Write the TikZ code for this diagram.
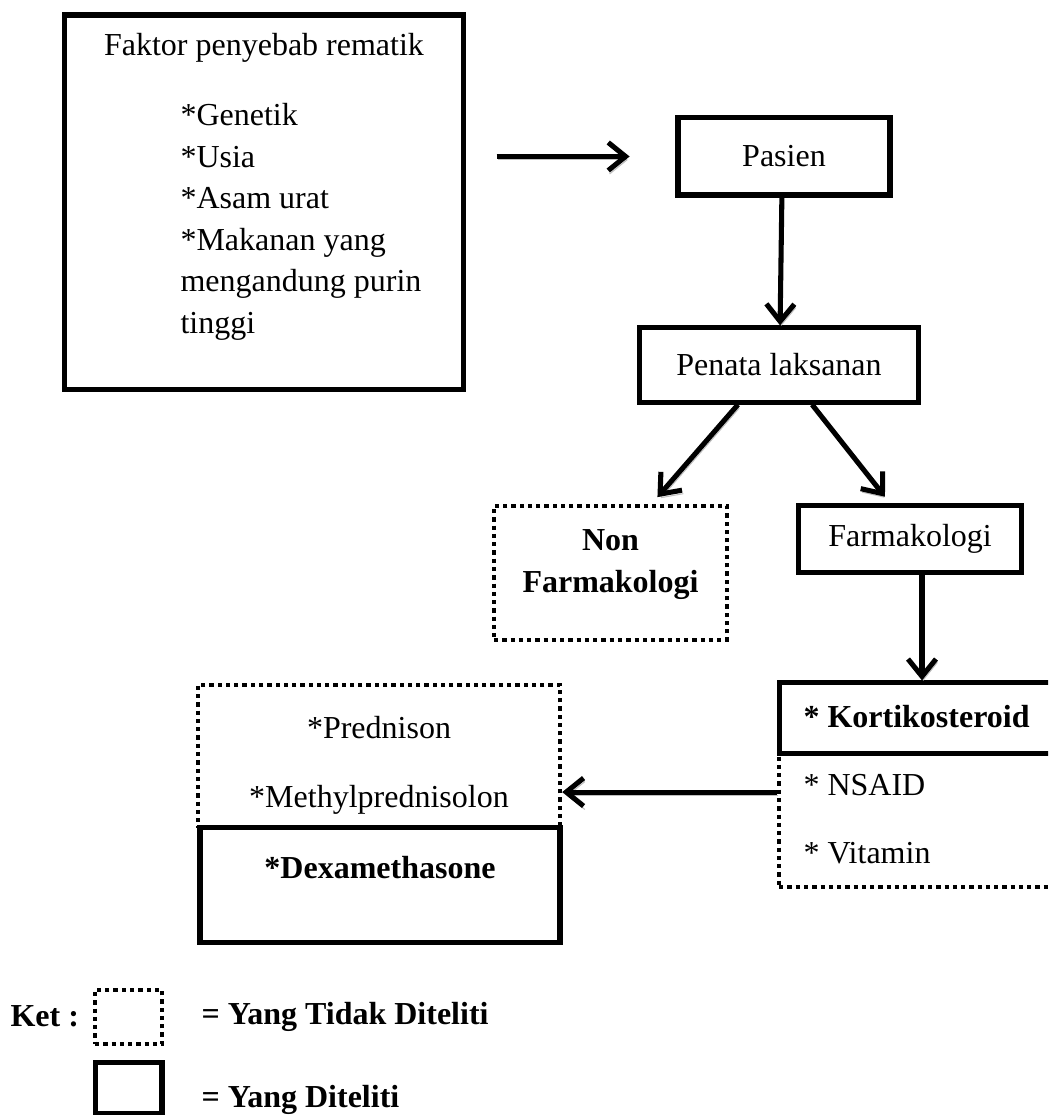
\documentclass[tikz,border=0pt]{standalone}
\usepackage{fontspec}
\setmainfont{Liberation Serif}
\usetikzlibrary{arrows.meta, % for the barb tips
                calc,
                positioning}

\begin{document}
\begin{tikzpicture}[x=0.375pt, y=-0.375pt,
                    every node/.style={font=\fontsize{12pt}{14.4pt}\selectfont},
                    kotak/.style={draw, line width=1.9pt, rectangle, inner sep=0pt},
                    kotaktitik/.style={draw, line width=1.6pt, dash pattern=on 1.6pt off 1.5pt, rectangle, inner sep=0pt},
                    teks/.style={inner sep=0pt},
                    panah/.style={line width=1.9pt, -{Straight Barb[length=6.5pt,width=10.5pt]},
                                  preaction={draw=gray!50, transform canvas={shift={(0.5pt,-1.3pt)}}}}
                    ]

    \useasboundingbox (0,0) rectangle (1048,1115);
    \clip (0,0) rectangle (1048,1115);

    % FAKTOR %
    \node[kotak, minimum width=149.3pt, minimum height=140.6pt] (faktor) at (264,202.5) {};
    \node[teks, anchor=base] (judul) at (faktor.north |- 0,56) {Faktor penyebab rematik};
    \foreach \t [count=\i] in {*Genetik, *Usia, *Asam urat, *Makanan yang, mengandung purin, tinggi}
    \node[teks, anchor=base west] (f\i) at (180,{84.5+41.5*\i}) {\t};

    % ALUR %
    \node[kotak, minimum width=79.5pt, minimum height=28.9pt] (pasien) at (784,156.5) {Pasien};
    \node[kotak, minimum width=104.3pt, minimum height=27.8pt] (penata) at (779,365) {Penata laksanan};
    \node[kotaktitik, minimum width=87.4pt, minimum height=50.3pt] (nonf) at (610.5,573) {};
    \node[teks, anchor=base] (nonf1) at (610.5,550) {\textbf{Non}};
    \node[teks, anchor=base] (nonf2) at (610.5,592) {\textbf{Farmakologi}};
    \node[kotak, minimum width=83.3pt, minimum height=24.8pt] (farm) at (910,539) {Farmakologi};

    % OBAT %
    \node[kotaktitik, minimum width=109pt, minimum height=50.3pt] (obat) at (924.5,820) {};
    \node[kotak, fill=white, minimum width=109pt, minimum height=26.3pt] (kort) at (924.5,718) {};
    \node[teks, anchor=base west] (kortt) at (803,727) {\textbf{* Kortikosteroid}};
    \node[teks, anchor=base west] (nsaid) at (803,795) {* NSAID};
    \node[teks, anchor=base west] (vit) at (803,863) {* Vitamin};

    \node[kotaktitik, minimum width=135.8pt, minimum height=53.6pt] (kiri) at (379,756.5) {};
    \node[teks, anchor=base] (pred) at (kiri.north |- 0,738) {*Prednison};
    \node[teks, anchor=base] (methyl) at (kiri.north |- 0,807) {*Methylprednisolon};
    \node[kotak, fill=white, minimum width=135pt, minimum height=42.8pt] (dexa) at (380,885) {};
    \node[teks, anchor=base] (dexat) at (dexa.north |- 0,878) {\textbf{*Dexamethasone}};

    % PANAH %
    \draw[panah, shorten <=11.6pt, shorten >=17.2pt] (faktor.east |- pasien.west) -- (pasien.west);
    \draw[panah] ([xshift=-0.8pt]pasien.south) -- ([xshift=0.4pt]penata.north);
    \draw[panah] ([xshift=-15.4pt]penata.south) -- ([xshift=17.6pt,yshift=2.5pt]nonf.north);
    \draw[panah] ([xshift=12.4pt]penata.south) -- ([xshift=-9.4pt,yshift=2.5pt]farm.north);
    \draw[panah] ([xshift=4.5pt]farm.south) -- ([xshift=4.5pt]farm.south |- kort.north);
    \draw[panah] ([yshift=1.1pt]nsaid.base -| obat.west) -- ([yshift=1.1pt]nsaid.base -| kiri.east);

    % KETERANGAN %
    \node[teks, anchor=base west] (ket) at (10,1026) {\textbf{Ket :}};
    \node[kotaktitik, minimum width=25.1pt, minimum height=20.3pt] (lgtitik) at (128.5,1017) {};
    \node[kotak, minimum width=25.1pt, minimum height=18.8pt] (lgkotak) at (128.5,1088) {};
    \node[teks, anchor=base west] (tdk) at (201,1024) {\textbf{= Yang Tidak Diteliti}};
    \node[teks, anchor=base west] (dtl) at (201,1107) {\textbf{= Yang Diteliti}};
\end{tikzpicture}
\end{document}
